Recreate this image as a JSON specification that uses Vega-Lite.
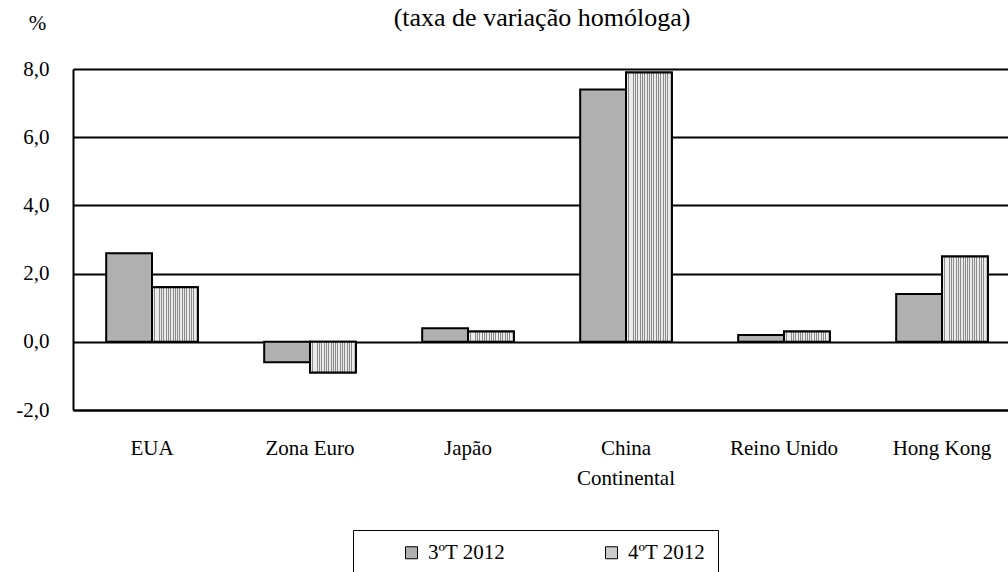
{
  "$schema": "https://vega.github.io/schema/vega-lite/v6.json",
  "width": 948,
  "height": 341,
  "autosize": "none",
  "padding": {"left": 73, "top": 69, "right": 0, "bottom": 162},
  "background": "white",
  "title": {"text": "(taxa de variação homóloga)", "font": "Liberation Serif", "fontSize": 26, "fontWeight": "normal", "color": "black", "anchor": "middle", "offset": -19, "dx": -5},
  "data": {"values": [
    {"regiao": "EUA", "serie": "3ºT 2012", "valor": 2.6},
    {"regiao": "EUA", "serie": "4ºT 2012", "valor": 1.6},
    {"regiao": "Zona Euro", "serie": "3ºT 2012", "valor": -0.6},
    {"regiao": "Zona Euro", "serie": "4ºT 2012", "valor": -0.9},
    {"regiao": "Japão", "serie": "3ºT 2012", "valor": 0.4},
    {"regiao": "Japão", "serie": "4ºT 2012", "valor": 0.3},
    {"regiao": "China Continental", "serie": "3ºT 2012", "valor": 7.4},
    {"regiao": "China Continental", "serie": "4ºT 2012", "valor": 7.9},
    {"regiao": "Reino Unido", "serie": "3ºT 2012", "valor": 0.2},
    {"regiao": "Reino Unido", "serie": "4ºT 2012", "valor": 0.3},
    {"regiao": "Hong Kong", "serie": "3ºT 2012", "valor": 1.4},
    {"regiao": "Hong Kong", "serie": "4ºT 2012", "valor": 2.5}
  ]},
  "encoding": {
    "x": {"field": "regiao", "type": "nominal", "sort": null,
      "scale": {"paddingInner": 0.42, "paddingOuter": 0.21},
      "axis": {"title": null, "labelAngle": 0, "ticks": false, "domain": true, "domainColor": "black", "domainWidth": 2,
        "labelFont": "Liberation Serif", "labelFontSize": 21, "labelColor": "black", "labelPadding": 38, "labelLineHeight": 30, "labelBaseline": "middle",
        "labelExpr": "datum.value == 'China Continental' ? ['China', 'Continental'] : datum.value"}},
    "xOffset": {"field": "serie", "type": "nominal", "sort": null, "scale": {"domain": ["3ºT 2012", "4ºT 2012"], "paddingInner": 0, "paddingOuter": 0}},
    "y": {"field": "valor", "type": "quantitative",
      "scale": {"domain": [-2, 8], "nice": false, "zero": false},
      "axis": {"values": [-2, 0, 2, 4, 6, 8], "title": "%", "titleAngle": 0, "titleX": -36, "titleY": -36, "titleFont": "Liberation Serif", "titleFontSize": 21, "titleFontWeight": "normal", "titleColor": "black",
        "ticks": false, "domainColor": "black", "domainWidth": 2, "grid": true, "gridColor": "black", "gridWidth": 2, "gridOpacity": 1,
        "labelFont": "Liberation Serif", "labelFontSize": 21, "labelColor": "black", "labelPadding": 24,
        "labelExpr": "(datum.value < 0 ? '-' : '') + replace(format(abs(datum.value), '.1f'), '.', ',')"}}
  },
  "layer": [
    {
      "mark": {"type": "bar", "stroke": "black", "strokeWidth": 2, "fillOpacity": 1},
      "encoding": {
        "color": {"field": "serie", "type": "nominal", "sort": null,
          "scale": {"domain": ["3ºT 2012", "4ºT 2012"], "range": ["#b0b0b0", "#cccccc"]},
          "legend": {"title": null, "orient": "none", "legendX": 280, "legendY": 461, "direction": "horizontal", "columns": 2, "columnPadding": 59,
            "padding": 12, "symbolOffset": 36, "strokeColor": "black", "fillColor": "white",
            "symbolType": "square", "symbolSize": 144, "symbolStrokeColor": "black", "symbolStrokeWidth": 1, "symbolOpacity": 1,
            "labelFont": "Liberation Serif", "labelFontSize": 21, "labelColor": "black", "labelOffset": 6,
            "labelExpr": "datum.label == '4ºT 2012' ? datum.label + '\u00a0\u00a0\u00a0\u00a0\u00a0\u00a0\u00a0\u00a0\u00a0\u00a0\u00a0\u00a0\u00a0\u00a0\u00a0\u00a0' : datum.label"}}
      }
    },
    {
      "transform": [{"filter": "datum.serie == '4ºT 2012'"}],
      "mark": {"type": "bar", "stroke": "black", "strokeWidth": 2, "fillOpacity": 1,
        "fill": {"gradient": "linear", "x1": 0, "y1": 0, "x2": 1, "y2": 0, "stops": [
        {"offset": 0, "color": "#8a8a8a"}, {"offset": 0.02, "color": "#8a8a8a"}, {"offset": 0.02, "color": "#ebebeb"}, {"offset": 0.05, "color": "#ebebeb"},
        {"offset": 0.05, "color": "#8a8a8a"}, {"offset": 0.07, "color": "#8a8a8a"}, {"offset": 0.07, "color": "#ebebeb"}, {"offset": 0.10, "color": "#ebebeb"},
        {"offset": 0.10, "color": "#8a8a8a"}, {"offset": 0.12, "color": "#8a8a8a"}, {"offset": 0.12, "color": "#ebebeb"}, {"offset": 0.15, "color": "#ebebeb"},
        {"offset": 0.15, "color": "#8a8a8a"}, {"offset": 0.17, "color": "#8a8a8a"}, {"offset": 0.17, "color": "#ebebeb"}, {"offset": 0.20, "color": "#ebebeb"},
        {"offset": 0.20, "color": "#8a8a8a"}, {"offset": 0.22, "color": "#8a8a8a"}, {"offset": 0.22, "color": "#ebebeb"}, {"offset": 0.25, "color": "#ebebeb"},
        {"offset": 0.25, "color": "#8a8a8a"}, {"offset": 0.27, "color": "#8a8a8a"}, {"offset": 0.27, "color": "#ebebeb"}, {"offset": 0.30, "color": "#ebebeb"},
        {"offset": 0.30, "color": "#8a8a8a"}, {"offset": 0.32, "color": "#8a8a8a"}, {"offset": 0.32, "color": "#ebebeb"}, {"offset": 0.35, "color": "#ebebeb"},
        {"offset": 0.35, "color": "#8a8a8a"}, {"offset": 0.37, "color": "#8a8a8a"}, {"offset": 0.37, "color": "#ebebeb"}, {"offset": 0.40, "color": "#ebebeb"},
        {"offset": 0.40, "color": "#8a8a8a"}, {"offset": 0.42, "color": "#8a8a8a"}, {"offset": 0.42, "color": "#ebebeb"}, {"offset": 0.45, "color": "#ebebeb"},
        {"offset": 0.45, "color": "#8a8a8a"}, {"offset": 0.47, "color": "#8a8a8a"}, {"offset": 0.47, "color": "#ebebeb"}, {"offset": 0.50, "color": "#ebebeb"},
        {"offset": 0.50, "color": "#8a8a8a"}, {"offset": 0.52, "color": "#8a8a8a"}, {"offset": 0.52, "color": "#ebebeb"}, {"offset": 0.55, "color": "#ebebeb"},
        {"offset": 0.55, "color": "#8a8a8a"}, {"offset": 0.57, "color": "#8a8a8a"}, {"offset": 0.57, "color": "#ebebeb"}, {"offset": 0.60, "color": "#ebebeb"},
        {"offset": 0.60, "color": "#8a8a8a"}, {"offset": 0.62, "color": "#8a8a8a"}, {"offset": 0.62, "color": "#ebebeb"}, {"offset": 0.65, "color": "#ebebeb"},
        {"offset": 0.65, "color": "#8a8a8a"}, {"offset": 0.67, "color": "#8a8a8a"}, {"offset": 0.67, "color": "#ebebeb"}, {"offset": 0.70, "color": "#ebebeb"},
        {"offset": 0.70, "color": "#8a8a8a"}, {"offset": 0.72, "color": "#8a8a8a"}, {"offset": 0.72, "color": "#ebebeb"}, {"offset": 0.75, "color": "#ebebeb"},
        {"offset": 0.75, "color": "#8a8a8a"}, {"offset": 0.77, "color": "#8a8a8a"}, {"offset": 0.77, "color": "#ebebeb"}, {"offset": 0.80, "color": "#ebebeb"},
        {"offset": 0.80, "color": "#8a8a8a"}, {"offset": 0.82, "color": "#8a8a8a"}, {"offset": 0.82, "color": "#ebebeb"}, {"offset": 0.85, "color": "#ebebeb"},
        {"offset": 0.85, "color": "#8a8a8a"}, {"offset": 0.87, "color": "#8a8a8a"}, {"offset": 0.87, "color": "#ebebeb"}, {"offset": 0.90, "color": "#ebebeb"},
        {"offset": 0.90, "color": "#8a8a8a"}, {"offset": 0.92, "color": "#8a8a8a"}, {"offset": 0.92, "color": "#ebebeb"}, {"offset": 0.95, "color": "#ebebeb"},
        {"offset": 0.95, "color": "#8a8a8a"}, {"offset": 0.97, "color": "#8a8a8a"}, {"offset": 0.97, "color": "#ebebeb"}, {"offset": 1, "color": "#ebebeb"}
      ]}}
    }
  ],
  "config": {"view": {"stroke": null}}
}
